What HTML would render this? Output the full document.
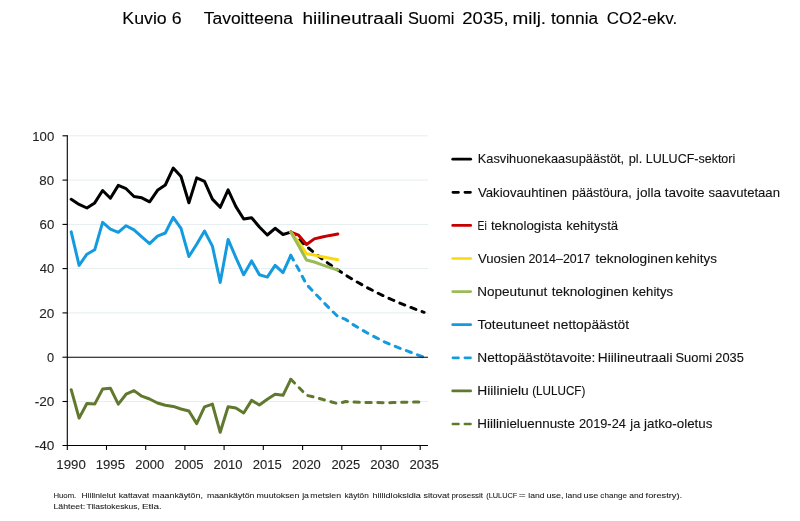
<!DOCTYPE html>
<html><head><meta charset="utf-8"><title>Kuvio 6</title>
<style>
html,body{margin:0;padding:0;background:#fff;}
svg{display:block;will-change:transform;}
text{font-family:"Liberation Sans",sans-serif;fill:#1f1f1f;white-space:pre;}
.ti{font-size:15.6px;fill:#000;stroke:#000;stroke-width:0.1px;}
.ax{font-size:12.4px;stroke:#1f1f1f;stroke-width:0.1px;}
.lg{font-size:12.2px;fill:#111;stroke:#111;stroke-width:0.1px;}
.fn{font-size:7.6px;fill:#1a1a1a;stroke:#1a1a1a;stroke-width:0.08px;}
</style></head><body>
<svg width="800" height="521" viewBox="0 0 800 521">
<rect width="800" height="521" fill="#fff"/>
<line x1="67.3" x2="428.0" y1="135.8" y2="135.8" stroke="#E5EEF0" stroke-width="1"/>
<line x1="67.3" x2="428.0" y1="180.1" y2="180.1" stroke="#E5EEF0" stroke-width="1"/>
<line x1="67.3" x2="428.0" y1="224.4" y2="224.4" stroke="#E5EEF0" stroke-width="1"/>
<line x1="67.3" x2="428.0" y1="268.6" y2="268.6" stroke="#E5EEF0" stroke-width="1"/>
<line x1="67.3" x2="428.0" y1="312.9" y2="312.9" stroke="#E5EEF0" stroke-width="1"/>
<line x1="67.3" x2="428.0" y1="401.5" y2="401.5" stroke="#E5EEF0" stroke-width="1"/>
<polyline points="71.2,389.7 79.1,418.1 86.9,403.5 94.7,404.1 102.6,389.1 110.4,388.2 118.3,404.1 126.1,394.2 134.0,390.6 141.8,396.2 149.6,399.0 157.5,403.0 165.3,405.2 173.2,406.4 181.0,409.0 188.9,411.0 196.7,423.6 204.5,406.8 212.4,404.1 220.2,432.3 228.1,406.8 235.9,408.1 243.7,413.0 251.6,400.4 259.4,405.0 267.3,399.3 275.1,394.2 283.0,395.3 290.8,379.3" fill="none" stroke="#60792F" stroke-width="3.0" stroke-linejoin="round" stroke-linecap="round"/>
<polyline points="290.8,379.3 298.6,387.1 306.5,395.3 314.3,397.1 322.2,399.3 330.0,401.5 337.8,403.7 345.7,401.5 353.5,402.1 361.4,402.4 369.2,402.6 377.1,402.6 384.9,402.8 392.7,402.6 400.6,402.4 408.4,402.1 416.3,402.1 424.1,402.1" fill="none" stroke="#60792F" stroke-width="3.0" stroke-linejoin="round" stroke-linecap="round" stroke-dasharray="5.3 6.6"/>
<polyline points="71.2,231.9 79.1,265.3 86.9,254.2 94.7,249.8 102.6,222.4 110.4,229.2 118.3,232.3 126.1,225.7 134.0,229.9 141.8,236.8 149.6,243.6 157.5,236.1 165.3,233.0 173.2,217.3 181.0,228.3 188.9,256.5 196.7,244.3 204.5,231.0 212.4,246.1 220.2,282.4 228.1,239.4 235.9,257.6 243.7,274.8 251.6,260.9 259.4,274.8 267.3,277.1 275.1,265.3 283.0,272.6 290.8,255.4" fill="none" stroke="#149BDF" stroke-width="3.0" stroke-linejoin="round" stroke-linecap="round"/>
<polyline points="290.8,255.4 298.6,269.3 306.5,284.4 314.3,292.6 322.2,300.9 330.0,308.9 337.8,316.5 345.7,319.4 353.5,324.9 361.4,329.6 369.2,334.1 377.1,338.1 384.9,342.1 392.7,345.4 400.6,348.5 408.4,351.4 416.3,354.4 424.1,357.2" fill="none" stroke="#149BDF" stroke-width="3.0" stroke-linejoin="round" stroke-linecap="round" stroke-dasharray="5.3 6.6"/>
<polyline points="71.2,199.3 79.1,204.4 86.9,208.0 94.7,202.9 102.6,190.5 110.4,198.2 118.3,185.4 126.1,188.7 134.0,196.5 141.8,197.8 149.6,201.8 157.5,190.3 165.3,185.0 173.2,168.1 181.0,176.5 188.9,202.7 196.7,177.9 204.5,181.4 212.4,199.1 220.2,207.3 228.1,189.8 235.9,206.6 243.7,219.0 251.6,217.7 259.4,227.0 267.3,235.0 275.1,228.3 283.0,234.5 290.8,232.1" fill="none" stroke="#000000" stroke-width="3.0" stroke-linejoin="round" stroke-linecap="round"/>
<polyline points="290.8,232.1 298.6,239.4 306.5,246.3 314.3,252.8 322.2,258.9 330.0,264.6 337.8,270.0 345.7,275.1 353.5,279.9 361.4,284.4 369.2,288.7 377.1,292.7 384.9,296.5 392.7,300.0 400.6,303.4 408.4,306.5 416.3,309.5 424.1,312.3" fill="none" stroke="#000000" stroke-width="3.0" stroke-linejoin="round" stroke-linecap="round" stroke-dasharray="5.3 6.6"/>
<polyline points="290.8,232.1 298.6,235.2 306.5,244.5 314.3,238.9 322.2,237.0 330.0,235.4 337.8,234.1" fill="none" stroke="#C60000" stroke-width="3.0" stroke-linejoin="round" stroke-linecap="round"/>
<polyline points="290.8,232.1 298.6,242.1 306.5,253.8 314.3,255.1 322.2,256.7 330.0,258.2 337.8,259.8" fill="none" stroke="#FAD90F" stroke-width="3.0" stroke-linejoin="round" stroke-linecap="round"/>
<polyline points="290.8,232.1 298.6,245.8 306.5,260.0 314.3,262.0 322.2,264.9 330.0,267.5 337.8,270.2" fill="none" stroke="#9BBB59" stroke-width="3.0" stroke-linejoin="round" stroke-linecap="round"/>
<line x1="67.3" x2="67.3" y1="135.3" y2="446.0" stroke="#000" stroke-width="1.1"/>
<line x1="67.3" x2="428.0" y1="357.2" y2="357.2" stroke="#000" stroke-width="1.1"/>
<line x1="62.5" x2="428.0" y1="445.5" y2="445.5" stroke="#000" stroke-width="1.1"/>
<line x1="62.5" x2="67.3" y1="135.8" y2="135.8" stroke="#000" stroke-width="1.1"/>
<line x1="62.5" x2="67.3" y1="180.1" y2="180.1" stroke="#000" stroke-width="1.1"/>
<line x1="62.5" x2="67.3" y1="224.4" y2="224.4" stroke="#000" stroke-width="1.1"/>
<line x1="62.5" x2="67.3" y1="268.6" y2="268.6" stroke="#000" stroke-width="1.1"/>
<line x1="62.5" x2="67.3" y1="312.9" y2="312.9" stroke="#000" stroke-width="1.1"/>
<line x1="62.5" x2="67.3" y1="357.2" y2="357.2" stroke="#000" stroke-width="1.1"/>
<line x1="62.5" x2="67.3" y1="401.5" y2="401.5" stroke="#000" stroke-width="1.1"/>
<line x1="67.3" x2="67.3" y1="445.5" y2="449.9" stroke="#000" stroke-width="1.1"/>
<line x1="106.5" x2="106.5" y1="445.5" y2="449.9" stroke="#000" stroke-width="1.1"/>
<line x1="145.7" x2="145.7" y1="445.5" y2="449.9" stroke="#000" stroke-width="1.1"/>
<line x1="184.9" x2="184.9" y1="445.5" y2="449.9" stroke="#000" stroke-width="1.1"/>
<line x1="224.1" x2="224.1" y1="445.5" y2="449.9" stroke="#000" stroke-width="1.1"/>
<line x1="263.3" x2="263.3" y1="445.5" y2="449.9" stroke="#000" stroke-width="1.1"/>
<line x1="302.6" x2="302.6" y1="445.5" y2="449.9" stroke="#000" stroke-width="1.1"/>
<line x1="341.8" x2="341.8" y1="445.5" y2="449.9" stroke="#000" stroke-width="1.1"/>
<line x1="381.0" x2="381.0" y1="445.5" y2="449.9" stroke="#000" stroke-width="1.1"/>
<line x1="420.2" x2="420.2" y1="445.5" y2="449.9" stroke="#000" stroke-width="1.1"/>
<line x1="452.7" x2="470.7" y1="159.2" y2="159.2" stroke="#000000" stroke-width="2.7" stroke-linecap="round"/>
<line x1="452.9" x2="470.5" y1="192.3" y2="192.3" stroke="#000000" stroke-width="2.7" stroke-linecap="round" stroke-dasharray="5.6 6.4"/>
<line x1="452.7" x2="470.7" y1="225.4" y2="225.4" stroke="#C60000" stroke-width="2.7" stroke-linecap="round"/>
<line x1="452.7" x2="470.7" y1="258.5" y2="258.5" stroke="#FAD90F" stroke-width="2.7" stroke-linecap="round"/>
<line x1="452.7" x2="470.7" y1="291.6" y2="291.6" stroke="#9BBB59" stroke-width="2.7" stroke-linecap="round"/>
<line x1="452.7" x2="470.7" y1="324.7" y2="324.7" stroke="#149BDF" stroke-width="2.7" stroke-linecap="round"/>
<line x1="452.9" x2="470.5" y1="357.8" y2="357.8" stroke="#149BDF" stroke-width="2.7" stroke-linecap="round" stroke-dasharray="5.6 6.4"/>
<line x1="452.7" x2="470.7" y1="390.9" y2="390.9" stroke="#60792F" stroke-width="2.7" stroke-linecap="round"/>
<line x1="452.9" x2="470.5" y1="424.0" y2="424.0" stroke="#60792F" stroke-width="2.7" stroke-linecap="round" stroke-dasharray="5.6 6.4"/>
<text class="ax" x="32.28" y="140.6" textLength="21.94" lengthAdjust="spacingAndGlyphs">100</text>
<text class="ax" x="39.39" y="184.9" textLength="14.77" lengthAdjust="spacingAndGlyphs">80</text>
<text class="ax" x="39.59" y="229.2" textLength="14.69" lengthAdjust="spacingAndGlyphs">60</text>
<text class="ax" x="39.73" y="273.4" textLength="14.57" lengthAdjust="spacingAndGlyphs">40</text>
<text class="ax" x="39.23" y="317.7" textLength="15.11" lengthAdjust="spacingAndGlyphs">20</text>
<text class="ax" x="47.07" y="362.0" textLength="7.12" lengthAdjust="spacingAndGlyphs">0</text>
<text class="ax" x="34.68" y="406.3" textLength="19.66" lengthAdjust="spacingAndGlyphs">-20</text>
<text class="ax" x="34.68" y="450.3" textLength="19.66" lengthAdjust="spacingAndGlyphs">-40</text>
<text class="ax" x="56.38" y="468.8" textLength="29.44" lengthAdjust="spacingAndGlyphs">1990</text>
<text class="ax" x="95.65" y="468.8" textLength="29.37" lengthAdjust="spacingAndGlyphs">1995</text>
<text class="ax" x="135.23" y="468.8" textLength="28.91" lengthAdjust="spacingAndGlyphs">2000</text>
<text class="ax" x="174.45" y="468.8" textLength="29.11" lengthAdjust="spacingAndGlyphs">2005</text>
<text class="ax" x="213.49" y="468.8" textLength="28.90" lengthAdjust="spacingAndGlyphs">2010</text>
<text class="ax" x="252.70" y="468.8" textLength="29.06" lengthAdjust="spacingAndGlyphs">2015</text>
<text class="ax" x="291.98" y="468.8" textLength="28.89" lengthAdjust="spacingAndGlyphs">2020</text>
<text class="ax" x="331.44" y="468.8" textLength="28.76" lengthAdjust="spacingAndGlyphs">2025</text>
<text class="ax" x="370.24" y="468.8" textLength="29.17" lengthAdjust="spacingAndGlyphs">2030</text>
<text class="ax" x="409.51" y="468.8" textLength="29.34" lengthAdjust="spacingAndGlyphs">2035</text>
<text class="lg" x="477.83" y="163.4" textLength="146.33" lengthAdjust="spacingAndGlyphs">Kasvihuonekaasupäästöt,</text>
<text class="lg" x="628.75" y="163.4" textLength="13.51" lengthAdjust="spacingAndGlyphs">pl.</text>
<text class="lg" x="645.69" y="163.4" textLength="89.58" lengthAdjust="spacingAndGlyphs">LULUCF-sektori</text>
<text class="lg" x="477.95" y="196.5" textLength="89.20" lengthAdjust="spacingAndGlyphs">Vakiovauhtinen</text>
<text class="lg" x="571.91" y="196.5" textLength="59.79" lengthAdjust="spacingAndGlyphs">päästöura,</text>
<text class="lg" x="636.87" y="196.5" textLength="24.19" lengthAdjust="spacingAndGlyphs">jolla</text>
<text class="lg" x="664.78" y="196.5" textLength="39.90" lengthAdjust="spacingAndGlyphs">tavoite</text>
<text class="lg" x="708.50" y="196.5" textLength="71.45" lengthAdjust="spacingAndGlyphs">saavutetaan</text>
<text class="lg" x="477.61" y="229.6" textLength="9.19" lengthAdjust="spacingAndGlyphs">Ei</text>
<text class="lg" x="490.93" y="229.6" textLength="70.98" lengthAdjust="spacingAndGlyphs">teknologista</text>
<text class="lg" x="566.20" y="229.6" textLength="51.96" lengthAdjust="spacingAndGlyphs">kehitystä</text>
<text class="lg" x="477.95" y="262.7" textLength="47.07" lengthAdjust="spacingAndGlyphs">Vuosien</text>
<text class="lg" x="528.42" y="262.7" textLength="62.06" lengthAdjust="spacingAndGlyphs">2014–2017</text>
<text class="lg" x="595.40" y="262.7" textLength="77.77" lengthAdjust="spacingAndGlyphs">teknologinen</text>
<text class="lg" x="675.19" y="262.7" textLength="41.65" lengthAdjust="spacingAndGlyphs">kehitys</text>
<text class="lg" x="477.31" y="295.8" textLength="69.91" lengthAdjust="spacingAndGlyphs">Nopeutunut</text>
<text class="lg" x="551.78" y="295.8" textLength="76.80" lengthAdjust="spacingAndGlyphs">teknologinen</text>
<text class="lg" x="632.23" y="295.8" textLength="40.85" lengthAdjust="spacingAndGlyphs">kehitys</text>
<text class="lg" x="477.40" y="328.9" textLength="71.64" lengthAdjust="spacingAndGlyphs">Toteutuneet</text>
<text class="lg" x="553.09" y="328.9" textLength="75.93" lengthAdjust="spacingAndGlyphs">nettopäästöt</text>
<text class="lg" x="477.28" y="362.0" textLength="118.17" lengthAdjust="spacingAndGlyphs">Nettopäästötavoite:</text>
<text class="lg" x="597.89" y="362.0" textLength="74.56" lengthAdjust="spacingAndGlyphs">Hiilineutraali</text>
<text class="lg" x="675.46" y="362.0" textLength="36.56" lengthAdjust="spacingAndGlyphs">Suomi</text>
<text class="lg" x="715.36" y="362.0" textLength="28.51" lengthAdjust="spacingAndGlyphs">2035</text>
<text class="lg" x="477.28" y="395.1" textLength="51.37" lengthAdjust="spacingAndGlyphs">Hiilinielu</text>
<text class="lg" x="532.19" y="395.1" textLength="53.15" lengthAdjust="spacingAndGlyphs">(LULUCF)</text>
<text class="lg" x="477.34" y="428.2" textLength="97.70" lengthAdjust="spacingAndGlyphs">Hiilinieluennuste</text>
<text class="lg" x="578.98" y="428.2" textLength="46.87" lengthAdjust="spacingAndGlyphs">2019-24</text>
<text class="lg" x="630.34" y="428.2" textLength="9.93" lengthAdjust="spacingAndGlyphs">ja</text>
<text class="lg" x="644.05" y="428.2" textLength="68.37" lengthAdjust="spacingAndGlyphs">jatko-oletus</text>
<text class="ti" x="122.38" y="23.8" textLength="59.15" lengthAdjust="spacingAndGlyphs">Kuvio 6</text>
<text class="ti" x="203.74" y="23.8" textLength="89.29" lengthAdjust="spacingAndGlyphs">Tavoitteena</text>
<text class="ti" x="302.54" y="23.8" textLength="100.44" lengthAdjust="spacingAndGlyphs">hiilineutraali</text>
<text class="ti" x="407.91" y="23.8" textLength="46.57" lengthAdjust="spacingAndGlyphs">Suomi</text>
<text class="ti" x="462.33" y="23.8" textLength="46.31" lengthAdjust="spacingAndGlyphs">2035,</text>
<text class="ti" x="512.47" y="23.8" textLength="33.65" lengthAdjust="spacingAndGlyphs">milj.</text>
<text class="ti" x="551.06" y="23.8" textLength="47.12" lengthAdjust="spacingAndGlyphs">tonnia</text>
<text class="ti" x="606.67" y="23.8" textLength="70.66" lengthAdjust="spacingAndGlyphs">CO2-ekv.</text>
<text class="fn" x="53.49" y="497.7" textLength="22.77" lengthAdjust="spacingAndGlyphs">Huom.</text>
<text class="fn" x="81.43" y="497.7" textLength="34.38" lengthAdjust="spacingAndGlyphs">Hiilinielut</text>
<text class="fn" x="118.72" y="497.7" textLength="30.53" lengthAdjust="spacingAndGlyphs">kattavat</text>
<text class="fn" x="152.35" y="497.7" textLength="50.49" lengthAdjust="spacingAndGlyphs">maankäytön,</text>
<text class="fn" x="206.92" y="497.7" textLength="47.47" lengthAdjust="spacingAndGlyphs">maankäytön</text>
<text class="fn" x="256.54" y="497.7" textLength="42.81" lengthAdjust="spacingAndGlyphs">muutoksen</text>
<text class="fn" x="302.18" y="497.7" textLength="6.79" lengthAdjust="spacingAndGlyphs">ja</text>
<text class="fn" x="310.36" y="497.7" textLength="30.70" lengthAdjust="spacingAndGlyphs">metsien</text>
<text class="fn" x="344.44" y="497.7" textLength="24.28" lengthAdjust="spacingAndGlyphs">käytön</text>
<text class="fn" x="372.51" y="497.7" textLength="48.33" lengthAdjust="spacingAndGlyphs">hiilidioksidia</text>
<text class="fn" x="423.54" y="497.7" textLength="26.02" lengthAdjust="spacingAndGlyphs">sitovat</text>
<text class="fn" x="451.45" y="497.7" textLength="31.54" lengthAdjust="spacingAndGlyphs">prosessit</text>
<text class="fn" x="486.22" y="497.7" textLength="31.14" lengthAdjust="spacingAndGlyphs">(LULUCF</text>
<text class="fn" x="518.87" y="497.7" textLength="6.87" lengthAdjust="spacingAndGlyphs">=</text>
<text class="fn" x="528.29" y="497.7" textLength="16.20" lengthAdjust="spacingAndGlyphs">land</text>
<text class="fn" x="546.40" y="497.7" textLength="17.21" lengthAdjust="spacingAndGlyphs">use,</text>
<text class="fn" x="565.56" y="497.7" textLength="16.25" lengthAdjust="spacingAndGlyphs">land</text>
<text class="fn" x="583.61" y="497.7" textLength="14.81" lengthAdjust="spacingAndGlyphs">use</text>
<text class="fn" x="600.33" y="497.7" textLength="26.60" lengthAdjust="spacingAndGlyphs">change</text>
<text class="fn" x="629.38" y="497.7" textLength="14.23" lengthAdjust="spacingAndGlyphs">and</text>
<text class="fn" x="645.61" y="497.7" textLength="36.55" lengthAdjust="spacingAndGlyphs">forestry).</text>
<text class="fn" x="53.44" y="508.5" textLength="31.63" lengthAdjust="spacingAndGlyphs">Lähteet:</text>
<text class="fn" x="86.61" y="508.5" textLength="53.26" lengthAdjust="spacingAndGlyphs">Tilastokeskus,</text>
<text class="fn" x="141.98" y="508.5" textLength="19.89" lengthAdjust="spacingAndGlyphs">Etla.</text>
</svg>
</body></html>
